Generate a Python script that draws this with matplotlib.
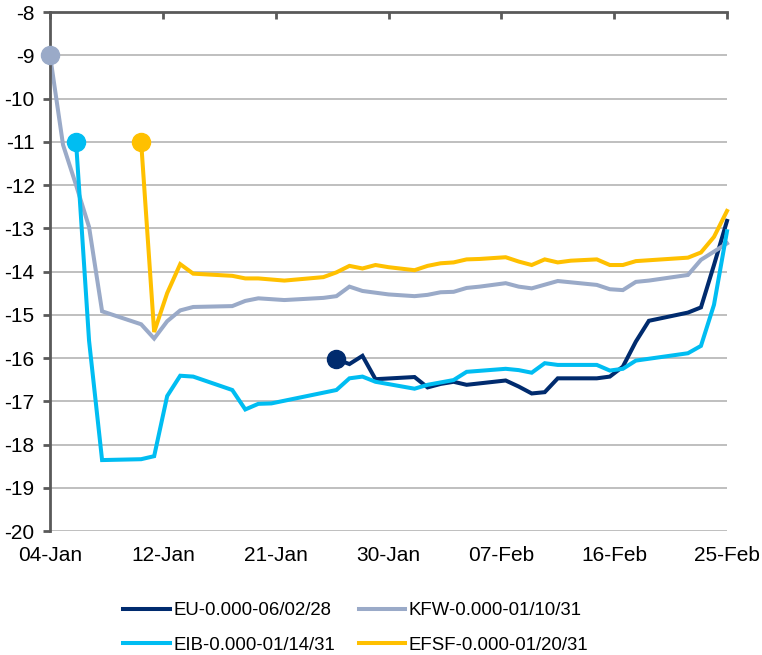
import pandas as pd
import matplotlib
matplotlib.use("Agg")
import matplotlib.pyplot as plt
import matplotlib.dates as mdates

plt.rcParams['font.family'] = ['Liberation Sans', 'DejaVu Sans']
plt.rcParams['axes.unicode_minus'] = False

start = pd.Timestamp('2021-01-04')
end = pd.Timestamp('2021-02-25')

# day offsets from 04-Jan and values
eu_days = [22, 23, 24, 25, 28, 29, 30, 31, 32, 35, 36, 37, 38, 39, 42, 43, 44, 45, 46, 49, 50, 51, 52]
eu_vals = [-16.03, -16.14, -15.95, -16.49, -16.44, -16.68, -16.60, -16.55, -16.62, -16.52, -16.66, -16.82,
           -16.79, -16.47, -16.47, -16.43, -16.20, -15.62, -15.14, -14.95, -14.83, -13.85, -12.83]

kfw_days = [0, 1, 2, 3, 4, 7, 8, 9, 10, 11, 14, 15, 16, 18, 21, 22, 23, 24, 25, 26, 28, 29, 30, 31, 32, 33,
            35, 36, 37, 39, 40, 42, 43, 44, 45, 46, 49, 50, 51, 52]
kfw_vals = [-9.0, -11.07, -12.0, -12.97, -14.92, -15.22, -15.55, -15.15, -14.90, -14.82, -14.80, -14.68,
            -14.62, -14.66, -14.61, -14.57, -14.35, -14.45, -14.49, -14.53, -14.57, -14.54, -14.48, -14.47,
            -14.38, -14.35, -14.27, -14.35, -14.39, -14.22, -14.25, -14.31, -14.41, -14.43, -14.24, -14.21,
            -14.08, -13.73, -13.54, -13.35]

eib_days = [2, 3, 4, 7, 8, 9, 10, 11, 14, 15, 16, 17, 22, 23, 24, 25, 28, 29, 31, 32, 35, 36, 37, 38, 39,
            42, 43, 44, 45, 49, 50, 51, 52]
eib_vals = [-11.0, -15.6, -18.36, -18.34, -18.27, -16.88, -16.41, -16.43, -16.74, -17.19, -17.06, -17.05,
            -16.74, -16.47, -16.43, -16.55, -16.71, -16.62, -16.51, -16.32, -16.25, -16.28, -16.34, -16.12,
            -16.16, -16.16, -16.29, -16.25, -16.06, -15.89, -15.72, -14.77, -13.07]

efsf_days = [7, 8, 9, 10, 11, 14, 15, 16, 18, 21, 22, 23, 24, 25, 26, 28, 29, 30, 31, 32, 33, 35, 36, 37,
             38, 39, 40, 42, 43, 44, 45, 49, 50, 51, 52]
efsf_vals = [-11.0, -15.4, -14.5, -13.83, -14.05, -14.10, -14.16, -14.16, -14.21, -14.13, -14.02, -13.87,
             -13.93, -13.85, -13.90, -13.97, -13.87, -13.81, -13.79, -13.72, -13.71, -13.67, -13.77, -13.85,
             -13.72, -13.79, -13.75, -13.72, -13.85, -13.85, -13.76, -13.68, -13.56, -13.20, -12.60]

series = [
    ('EU-0.000-06/02/28', eu_days, eu_vals, '#002B6E'),
    ('KFW-0.000-01/10/31', kfw_days, kfw_vals, '#9AAAC8'),
    ('EIB-0.000-01/14/31', eib_days, eib_vals, '#00BDF2'),
    ('EFSF-0.000-01/20/31', efsf_days, efsf_vals, '#FFC000'),
]

fig = plt.figure(figsize=(7.62, 6.55), dpi=100)
ax = fig.add_axes([50/762, 1-531/655, 677/762, 519/655])

handles = {}
for name, days, vals, col in series:
    dates = start + pd.to_timedelta(days, unit='D')
    handles[name], = ax.plot(dates, vals, color=col, lw=2.9, label=name, clip_on=False,
                             solid_joinstyle='miter')
    ax.plot(dates[:1], vals[:1], 'o', color=col, ms=13, clip_on=False, zorder=5)

ax.set_xlim(start, end)
ax.set_ylim(-20, -8)
ax.set_yticks(range(-20, -7))

s = mdates.date2num(start)
ax.set_xticks([s + k * 52 / 6 for k in range(7)])
ax.xaxis.set_major_formatter(mdates.DateFormatter('%d-%b'))

ax.grid(axis='y', color='#BFBFBF', lw=1.4)
ax.set_axisbelow(True)
for sp in ['right', 'bottom']:
    ax.spines[sp].set_visible(False)
for sp in ['top', 'left']:
    ax.spines[sp].set_color('#595959')
    ax.spines[sp].set_linewidth(2)

ax.tick_params(axis='x', top=True, bottom=False, labeltop=False, labelbottom=True,
               direction='in', length=5, width=2, color='#595959', labelsize=15, pad=11)
ax.tick_params(axis='y', direction='out', length=5, width=2, color='#595959', labelsize=15, pad=6)

# legend filled column-wise: row 1 EU, KFW; row 2 EIB, EFSF
order = ['EU-0.000-06/02/28', 'EIB-0.000-01/14/31', 'KFW-0.000-01/10/31', 'EFSF-0.000-01/20/31']
fig.legend([handles[k] for k in order], order, ncol=2, loc='center',
           bbox_to_anchor=(356/762, 1-628/655), frameon=False, fontsize=13.4,
           handlelength=2.5, handletextpad=0.2, columnspacing=1.25, labelspacing=0.95, borderpad=0)

plt.savefig('out.png', dpi=100)
